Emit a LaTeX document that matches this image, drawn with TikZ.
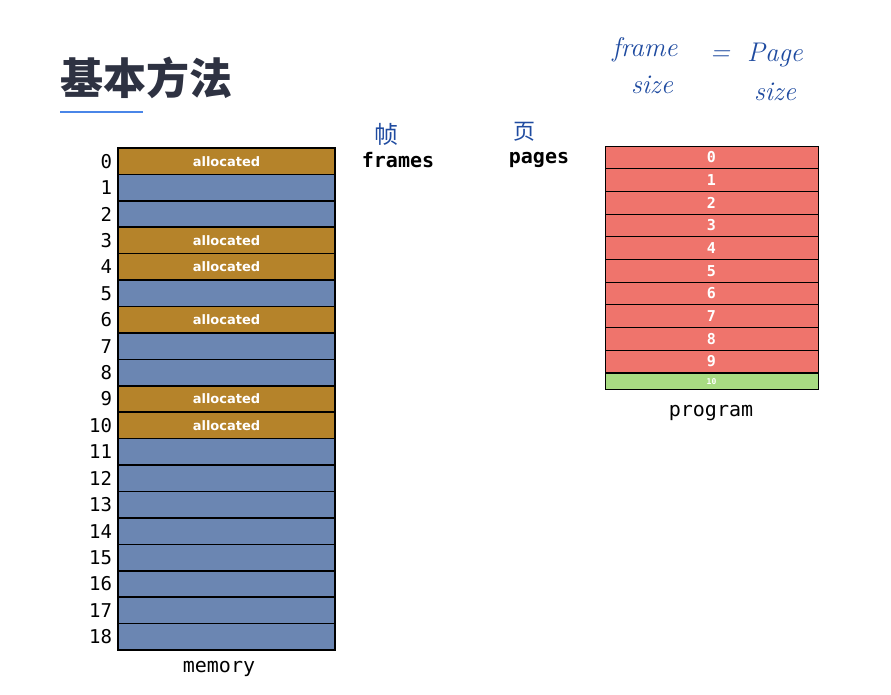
\documentclass[tikz,border=0pt]{standalone}
\usepackage{fontspec}
\setmonofont{DejaVu Sans Mono}
\setsansfont{DejaVu Sans}
\newfontfamily\cjk{Noto Sans CJK SC}
\usetikzlibrary{positioning}

\definecolor{gold}{HTML}{B5832A}
\definecolor{memblue}{HTML}{6B86B2}
\definecolor{pagered}{HTML}{EF746C}
\definecolor{pagegreen}{HTML}{A8DB82}
\definecolor{inkblue}{HTML}{1F4BA0}
\definecolor{titlegray}{HTML}{2E3242}
\definecolor{lineblue}{HTML}{4A86E8}

\tikzset{
	memcell/.style={draw=black, line width=1.6pt, fill=memblue, minimum width=217pt,
		minimum height=26.42pt, inner sep=0pt, text=white, font=\sffamily\bfseries\fontsize{13}{13}\selectfont},
	pagecell/.style={draw=black, line width=0.8pt, fill=pagered, minimum width=213pt,
		minimum height=22.67pt, inner sep=0pt, text=white, font=\ttfamily\bfseries\fontsize{15}{15}\selectfont},
	idx/.style={inner sep=0pt, font=\ttfamily\fontsize{19}{19}\selectfont},
	caption/.style={font=\ttfamily\fontsize{20}{20}\selectfont},
	hand/.style={text=inkblue, font=\itshape\fontsize{27}{27}\selectfont},
}

\begin{document}
\begin{tikzpicture}[x=1pt, y=-1pt]
	\useasboundingbox (0,0) rectangle (891,694);
	% title
	\node[text=titlegray, font=\cjk\bfseries\fontsize{43}{43}\selectfont] (title) at (146,78) {基本方法};
	\coordinate (ulA) at (60,112);
	\coordinate (ulB) at (143,112);
	\draw[lineblue, line width=1.5pt] (ulA) -- (ulB);

	% memory
	\foreach \i/\c/\t in {0/gold/allocated, 1/memblue/, 2/memblue/, 3/gold/allocated,
		4/gold/allocated, 5/memblue/, 6/gold/allocated, 7/memblue/, 8/memblue/,
		9/gold/allocated, 10/gold/allocated, 11/memblue/, 12/memblue/, 13/memblue/,
		14/memblue/, 15/memblue/, 16/memblue/, 17/memblue/, 18/memblue/}{
		\node[memcell, fill=\c] (m\i) at (226.5, 161.2+26.42*\i) {\t};
		\node[idx, left=5pt of m\i] (n\i) {\i};
	}
	\node[caption] (memory) at (219,669) {memory};

	% program
	\foreach \i in {0,...,9}{
		\node[pagecell] (p\i) at (711.5, 157.3+22.67*\i) {\i};
	}
	\node[pagecell, fill=pagegreen, minimum height=16pt, font=\ttfamily\bfseries\fontsize{8}{8}\selectfont,
		below=0pt of p9] (p10) {10};
	\node[caption] (program) at (711,413) {program};

	% frames / pages
	\node[font=\ttfamily\bfseries\fontsize{20}{20}\selectfont] (frames) at (398,160) {frames};
	\node[font=\ttfamily\bfseries\fontsize{20}{20}\selectfont] (pages) at (539,160) {pages};
	\node[text=inkblue, font=\cjk\fontsize{24}{24}\selectfont] (zhen) at (386,134) {帧};
	\node[text=inkblue, font=\cjk\fontsize{22}{22}\selectfont] (ye) at (524,132) {页};

	% handwritten note
	\node[hand] (frame) at (645,50) {frame};
	\node[hand] (fsize) at (652,85) {size};
	\node[hand] (eq) at (720,56) {=};
	\node[hand] (page) at (775,55) {Page};
	\node[hand] (psize) at (775,92) {size};
\end{tikzpicture}
\end{document}
